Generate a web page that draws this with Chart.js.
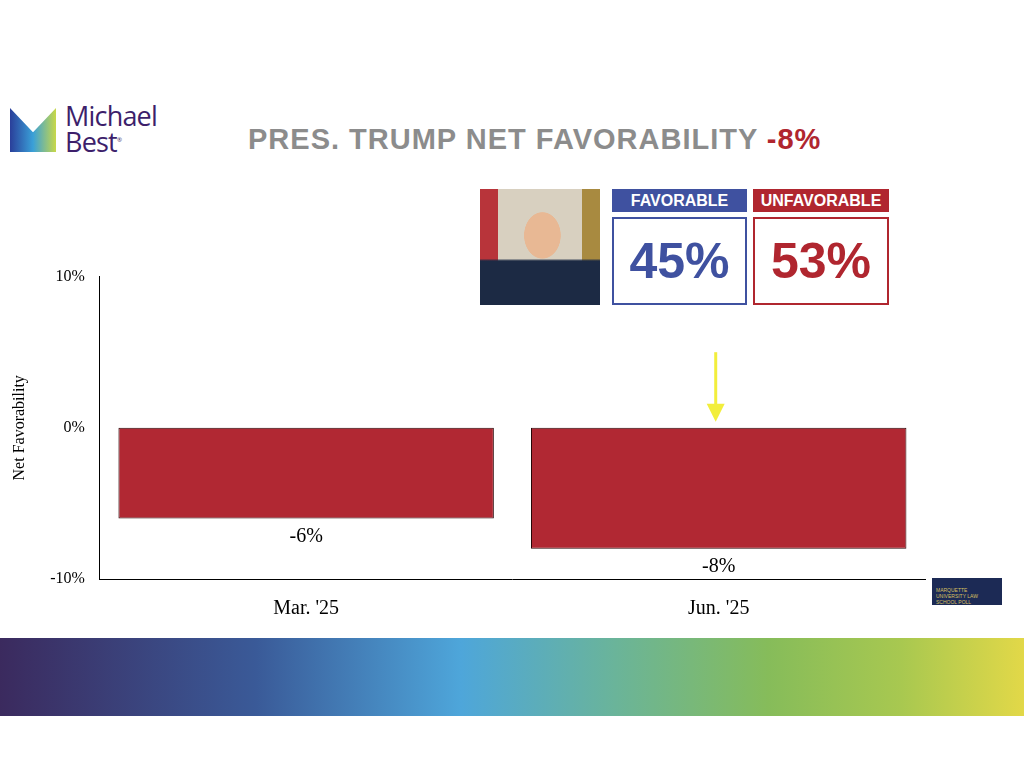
<!DOCTYPE html>
<html lang="en">
<head>
<meta charset="UTF-8">
<title>Pres. Trump Net Favorability</title>
<script src="https://cdn.jsdelivr.net/npm/chart.js@4"></script>
<style>
  * { margin: 0; padding: 0; box-sizing: border-box; }
  body { width: 1024px; height: 768px; background: #fff; position: relative; overflow: hidden; font-family: "Liberation Sans", Arial, sans-serif; }
  .logo { position: absolute; left: 10px; top: 106px; }
  .logo .mark { position: absolute; left: 0; top: 2px; width: 46px; height: 44px;
    background: linear-gradient(90deg, #2a3f9a, #3aa0d8 50%, #c8d848); clip-path: polygon(0 0, 50% 55%, 100% 0, 100% 100%, 0 100%); }
  .logo .txt { position: absolute; left: 55px; top: -3px; color: #3d1f6b; font: 500 27px/25px "Open Sans", sans-serif; letter-spacing: -0.8px; }
  .title { position: absolute; left: 248px; top: 123px; font: bold 29px "Liberation Sans", sans-serif; color: #8c8c8c; letter-spacing: 1px; white-space: nowrap; }
  .title span { color: #b0262f; }
  .photo { position: absolute; left: 480px; top: 189px; width: 120px; height: 116px;
    background: radial-gradient(ellipse 30px 38px at 52% 40%, #e8b894 60%, transparent 62%),
                linear-gradient(180deg, transparent 60%, #1c2a44 62%),
                linear-gradient(90deg, #b8343a 0 15%, #d8d0c0 15% 85%, #a88a40 85%); }
  .box { position: absolute; top: 189px; text-align: center; }
  .box .hd { color: #fff; font: bold 16px "Liberation Sans", sans-serif; height: 23px; line-height: 24px; }
  .box .val { margin-top: 5px; height: 88px; border: 2px solid; font: bold 50px/84px "Liberation Sans", sans-serif; }
  .fav { left: 612px; width: 135px; }
  .fav .hd { background: #3f51a0; } .fav .val { border-color: #3f51a0; color: #3f51a0; }
  .unf { left: 753px; width: 136px; }
  .unf .hd { background: #b0262f; } .unf .val { border-color: #b0262f; color: #b0262f; }
  #wrap { position: absolute; left: 0; top: 252px; width: 940px; height: 387px; }
  .mu { position: absolute; left: 932px; top: 578px; width: 70px; height: 27px; background: #1c2a55; color: #d8c060; font: 5px sans-serif; padding: 9px 4px; }
  .band { position: absolute; left: 0; top: 638px; width: 1024px; height: 78px;
    background: linear-gradient(90deg, #3b2a5e 0%, #3a5a98 25%, #4ea6da 45%, #6ab49a 60%, #86bc5a 75%, #a8c850 88%, #e2d848 100%); }
</style>
</head>
<body>
<div class="logo"><div class="mark"></div><div class="txt">Michael<br>Best<sup style="font-size:6px">®</sup></div></div>
<div class="title">PRES. TRUMP NET FAVORABILITY <span>-8%</span></div>
<div class="photo"></div>
<div class="box fav"><div class="hd">FAVORABLE</div><div class="val">45%</div></div>
<div class="box unf"><div class="hd">UNFAVORABLE</div><div class="val">53%</div></div>
<div id="wrap"><canvas id="c"></canvas></div>
<div class="mu">MARQUETTE UNIVERSITY LAW SCHOOL POLL</div>
<div class="band"></div>
<script>
const categories = ["Mar. '25", "Jun. '25"];
const netValues = [-6, -8];
const yTicks = [-10, 0, 10];

const serif = '"Liberation Serif", "Times New Roman", serif';

const barLabels = {
  id: 'barLabels',
  afterDatasetsDraw(chart) {
    const ctx = chart.ctx;
    const meta = chart.getDatasetMeta(0);
    ctx.save();
    ctx.font = '20px ' + serif;
    ctx.fillStyle = '#000';
    ctx.textAlign = 'center';
    ctx.textBaseline = 'top';
    meta.data.forEach((bar, i) => ctx.fillText(netValues[i] + '%', bar.x, bar.y + 8));
    // yellow arrow above the latest bar
    const last = meta.data[meta.data.length - 1];
    const x = last.x - 3, top = chart.scales.y.getPixelForValue(5), tip = last.base - 6;
    ctx.strokeStyle = '#f2ee3c'; ctx.fillStyle = '#f2ee3c'; ctx.lineWidth = 3;
    ctx.beginPath(); ctx.moveTo(x, top); ctx.lineTo(x, tip - 14); ctx.stroke();
    ctx.beginPath(); ctx.moveTo(x - 9, tip - 18); ctx.lineTo(x + 9, tip - 18); ctx.lineTo(x, tip); ctx.closePath(); ctx.fill();
    ctx.restore();
  }
};

new Chart(document.getElementById('c'), {
  type: 'bar',
  data: {
    labels: categories,
    datasets: [{
      data: netValues,
      backgroundColor: '#b12833',
      borderColor: '#2a0608',
      borderWidth: 1,
      borderSkipped: false,
      categoryPercentage: 0.91,
      barPercentage: 1
    }]
  },
  options: {
    responsive: true,
    maintainAspectRatio: false,
    animation: false,
    layout: { padding: { top: 20, right: 15, left: 6, bottom: 0 } },
    plugins: { legend: { display: false }, tooltip: { enabled: false } },
    scales: {
      x: {
        grid: { display: false, drawTicks: false },
        border: { color: '#000', width: 1 },
        ticks: { color: '#000', font: { family: serif, size: 20 }, padding: 18 }
      },
      y: {
        min: -10, max: 10,
        afterBuildTicks: axis => { axis.ticks = yTicks.map(v => ({ value: v })); },
        grid: { display: false, drawTicks: false },
        border: { color: '#000', width: 1 },
        ticks: { color: '#000', font: { family: serif, size: 16 }, padding: 15, callback: v => v + '%' },
        title: { display: true, text: 'Net Favorability', color: '#000', font: { family: serif, size: 16 }, padding: { bottom: 6 } }
      }
    }
  },
  plugins: [barLabels]
});
</script>
</body>
</html>
